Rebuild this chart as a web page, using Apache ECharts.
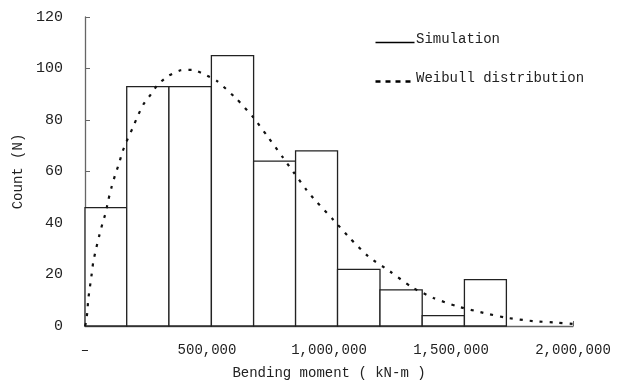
<!DOCTYPE html>
<html>
<head>
<meta charset="utf-8">
<script src="https://cdn.jsdelivr.net/npm/echarts@6/dist/echarts.min.js"></script>
<style>
  html, body { margin: 0; padding: 0; background: #fff; }
  #chart { width: 619px; height: 385px; }
</style>
</head>
<body>
<div id="chart"></div>
<script>
// histogram bins (kN-m) and counts
const binEdges = [0, 171000, 344000, 518000, 691000, 863000, 1035000, 1209000, 1382000, 1555000, 1727000]
const counts = [46, 93, 93, 105, 64, 68, 22, 14, 4, 18]

// weibull curve, points
const curveX = [0, 4000, 9400, 13500, 20500, 27500, 34000, 45000, 57400, 71000, 84800, 95500, 109000,
  123000, 139000, 154000, 175000, 195000, 216000, 239000, 270000, 300000, 341000, 392000, 440000, 488000,
  540000, 622000, 690000, 745000, 813000, 854000, 909000, 943000,
  1018000, 1086000, 1161000, 1250000, 1339000, 1428000, 1523000, 1633000, 1728000, 1837000, 1933000, 2000000]
const curveY = [0, 1.3, 5.4, 10.5, 15.4, 20.2, 25, 29.8, 34.7, 39.6, 44, 48.9, 54,
  58.5, 63, 67.8, 72.7, 76.8, 81.5, 86, 90, 93.9, 97.1, 99.3, 99.5, 97.8,
  95.2, 88.1, 81, 74, 65.2, 59.8, 52.7, 48.9,
  41.2, 34.1, 27, 21.2, 15.1, 10.9, 7.7, 5.1, 3.2, 1.9, 1.3, 0.8]

const xTicks = [0, 500000, 1000000, 1500000, 2000000]
const yTicks = [0, 20, 40, 60, 80, 100, 120]

const font = 'Liberation Mono'
const histData = counts.map((c, i) => [binEdges[i], binEdges[i + 1], c])
const curveData = curveX.map((x, i) => [x, curveY[i]])

const chart = echarts.init(document.getElementById('chart'))
chart.setOption({
  animation: false,
  grid: { left: 85, right: 46, top: 17, bottom: 57 },
  xAxis: {
    type: 'value',
    min: xTicks[0],
    max: xTicks[xTicks.length - 1],
    interval: 500000,
    name: 'Bending moment ( kN-m )',
    nameLocation: 'middle',
    nameGap: 40,
    nameTextStyle: { fontFamily: font, fontSize: 14, color: '#222' },
    axisLine: { lineStyle: { color: '#666', width: 1.3 } },
    axisTick: { inside: true, length: 5, lineStyle: { color: '#666' } },
    axisLabel: {
      margin: 17,
      fontFamily: font,
      fontSize: 14,
      color: '#222',
      formatter: function (v) {
        return v === 0 ? '–' : v.toLocaleString('en-US')
      },
    },
    splitLine: { show: false },
  },
  yAxis: {
    type: 'value',
    min: yTicks[0],
    max: yTicks[yTicks.length - 1],
    interval: 20,
    name: 'Count (N)',
    nameLocation: 'middle',
    nameGap: 51,
    nameTextStyle: { fontFamily: font, fontSize: 14, color: '#222' },
    axisLine: { show: true, lineStyle: { color: '#666', width: 1.3 } },
    axisTick: { show: true, inside: true, length: 5, lineStyle: { color: '#666' } },
    axisLabel: { margin: 22, fontFamily: font, fontSize: 15, color: '#222' },
    splitLine: { show: false },
  },
  graphic: [
    { type: 'line', left: 373, top: 40, shape: { x1: 0, y1: 0, x2: 39, y2: 0 }, style: { stroke: '#000', lineWidth: 1.3 } },
    { type: 'text', left: 416, top: 32, style: { text: 'Simulation', font: '14px "Liberation Mono"', fill: '#222' } },
    { type: 'line', left: 373, top: 79, shape: { x1: 0, y1: 0, x2: 39, y2: 0 }, style: { stroke: '#000', lineWidth: 2.5, lineDash: [5, 5] } },
    { type: 'text', left: 416, top: 71, style: { text: 'Weibull distribution', font: '14px "Liberation Mono"', fill: '#222' } },
  ],
  series: [
    {
      name: 'Simulation',
      type: 'custom',
      data: histData,
      encode: { x: [0, 1], y: 2 },
      renderItem: function (params, api) {
        const p0 = api.coord([api.value(0), api.value(2)])
        const p1 = api.coord([api.value(1), 0])
        return {
          type: 'rect',
          shape: { x: p0[0], y: p0[1], width: p1[0] - p0[0], height: p1[1] - p0[1] },
          style: { fill: '#fff', stroke: '#222', lineWidth: 1.3 },
        }
      },
      z: 2,
    },
    {
      name: 'Weibull distribution',
      type: 'line',
      data: curveData,
      smooth: 0.2,
      showSymbol: false,
      lineStyle: { color: '#111', width: 2.2, type: [3, 7] },
      z: 3,
    },
  ],
})
</script>
</body>
</html>
